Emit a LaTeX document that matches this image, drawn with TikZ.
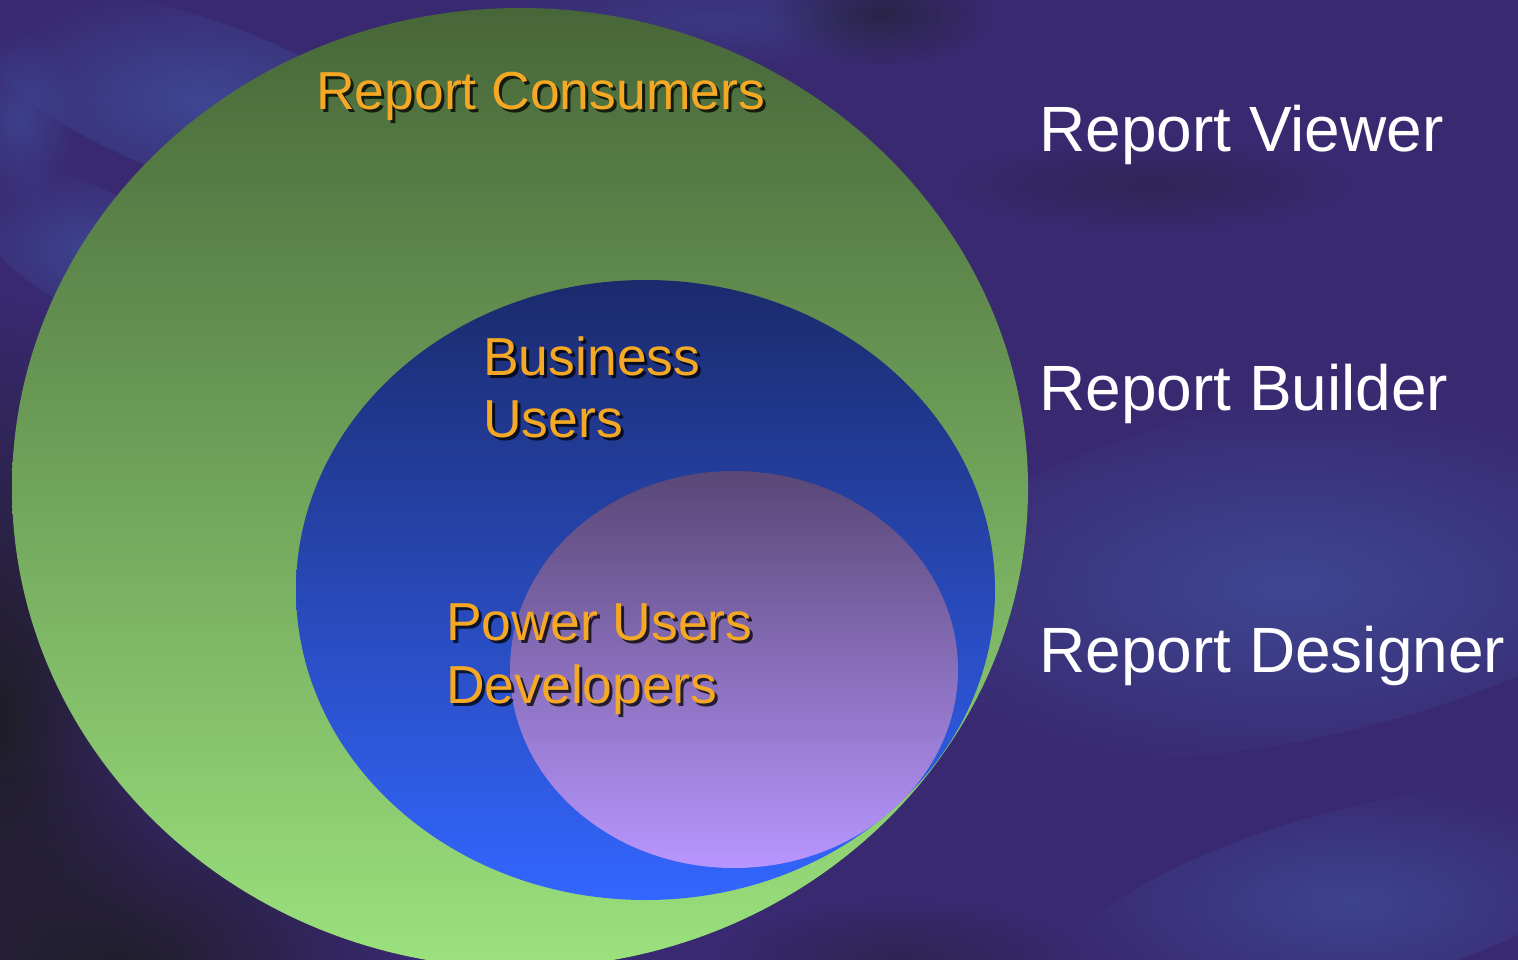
\documentclass[tikz,border=0pt]{standalone}
\usepackage{fontspec}
\setmainfont{Liberation Sans}
\usetikzlibrary{fadings}
\tikzfading[name=softblob, inner color=transparent!0, outer color=transparent!100]
\definecolor{bgbase}{HTML}{392970}
\definecolor{bglight}{HTML}{3F4A96}
\definecolor{bgdark}{HTML}{1F1D26}
\definecolor{greentop}{HTML}{476639}
\definecolor{greenbot}{HTML}{9BE27D}
\definecolor{bluetop}{HTML}{1B2A6C}
\definecolor{bluebot}{HTML}{3366FF}
\definecolor{purptop}{HTML}{594776}
\definecolor{purpbot}{HTML}{B896FF}
\definecolor{orangetxt}{HTML}{F4A824}
\begin{document}
\begin{tikzpicture}[x=1pt,y=-1pt,
  blob/.style={fill=#1, path fading=softblob},
  orangelbl/.style={anchor=base west, inner sep=0pt, text=orangetxt, font=\fontsize{53.5}{53.5}\selectfont},
  shadowlbl/.style={anchor=base west, inner sep=0pt, text=black, opacity=0.75, font=\fontsize{53.5}{53.5}\selectfont},
  whitelbl/.style={anchor=base west, inner sep=0pt, text=white, font=\fontsize{64}{64}\selectfont}]
\useasboundingbox (0,0) rectangle (1518,960);
% background
\fill[bgbase] (0,0) rectangle (1518,960);
\fill[blob=bglight, opacity=0.9, rotate around={12:(1290,570)}] (1290,570) ellipse [x radius=440, y radius=170];
\fill[blob=bglight, opacity=0.8, rotate around={15:(1350,900)}] (1350,900) ellipse [x radius=300, y radius=90];
\fill[blob=bglight, opacity=0.9, rotate around={-20:(200,100)}] (200,100) ellipse [x radius=240, y radius=80];
\fill[blob=bglight, opacity=0.8, rotate around={-30:(90,250)}] (90,250) ellipse [x radius=140, y radius=60];
\fill[blob=bglight, opacity=0.7] (20,120) ellipse [x radius=60, y radius=90];
\fill[blob=bglight, opacity=0.5] (720,20) ellipse [x radius=260, y radius=50];
\fill[blob=bgdark] (0,720) ellipse [x radius=170, y radius=420];
\fill[blob=bgdark] (120,980) ellipse [x radius=280, y radius=220];
\fill[blob=bgdark, opacity=0.6] (880,15) ellipse [x radius=110, y radius=50];
\fill[blob=bgdark, opacity=0.35] (1150,185) ellipse [x radius=200, y radius=45];
\fill[blob=bgdark, opacity=0.4] (900,960) ellipse [x radius=180, y radius=60];
% ellipses
\shade[top color=greentop, bottom color=greenbot] (520,488) ellipse [x radius=508, y radius=480];
\shade[top color=bluetop, bottom color=bluebot] (645.5,590) ellipse [x radius=349.5, y radius=310];
\shade[top color=purptop, bottom color=purpbot] (734,669.5) ellipse [x radius=224, y radius=198.5];
% orange labels with shadows
\node[shadowlbl] (rcS) at (319,113) {Report Consumers};
\node[orangelbl] (rc) at (316,110) {Report Consumers};
\node[shadowlbl] (bu1S) at (486,378) {Business};
\node[orangelbl] (bu1) at (483,375) {Business};
\node[shadowlbl] (bu2S) at (486,440) {Users};
\node[orangelbl] (bu2) at (483,437) {Users};
\node[shadowlbl] (pu1S) at (449,643) {Power Users};
\node[orangelbl] (pu1) at (446,640) {Power Users};
\node[shadowlbl] (pu2S) at (449,706) {Developers};
\node[orangelbl] (pu2) at (446,703) {Developers};
% white labels
\node[whitelbl] (rv) at (1039,152) {Report Viewer};
\node[whitelbl] (rb) at (1039,410) {Report Builder};
\node[whitelbl] (rd) at (1039,672) {Report Designer};
\end{tikzpicture}
\end{document}
